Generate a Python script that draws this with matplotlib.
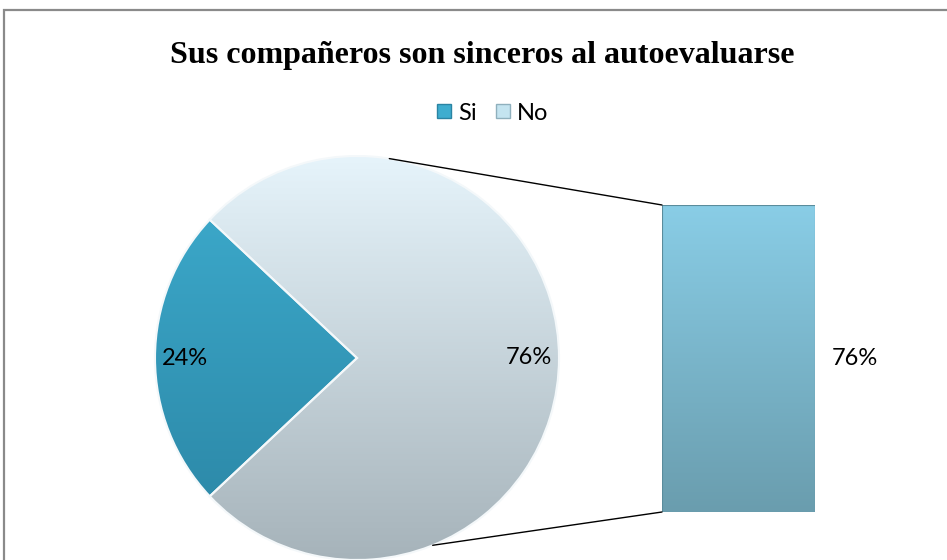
import matplotlib
matplotlib.use("Agg")
import matplotlib.pyplot as plt
import numpy as np
from matplotlib.colors import LinearSegmentedColormap
from matplotlib.patches import Rectangle, ConnectionPatch
from matplotlib.lines import Line2D

title = "Sus compañeros son sinceros al autoevaluarse"
labels = ["Si", "No"]
values = [24, 76]
bar_values = [76]
bar_label = "76%"

# gradient colours (top, bottom)
si_cols = ("#3eadcf", "#2a84a3")
no_cols = ("#e6f4fb", "#a6b3ba")
bar_cols = ("#89cde6", "#6a9dae")

fig = plt.figure(figsize=(9.47, 5.6), dpi=100)
W, H = 947, 560


def grad_fill(ax, patch, cols, extent):
    cmap = LinearSegmentedColormap.from_list("g", [cols[0], cols[1]])
    g = np.linspace(0, 1, 256).reshape(-1, 1)
    im = ax.imshow(g, cmap=cmap, extent=extent, origin="upper",
                   aspect="auto", zorder=patch.get_zorder() - 0.1)
    im.set_clip_path(patch)
    return im


# frame
fig.patches.append(Rectangle((4 / W, -0.02), 1.0, (H - 10) / H + 0.02,
                             transform=fig.transFigure, fill=False,
                             edgecolor="#8a8a8a", lw=1.6))

# pie
r_px = 202
cx, cy = 357, 358
size = 2.2 * r_px
ax = fig.add_axes([(cx - size / 2) / W, (H - cy - size / 2) / H, size / W, size / H])
wedges, texts, autotexts = ax.pie(values, startangle=136.8, counterclock=True,
                                  autopct="%d%%", pctdistance=0.85,
                                  wedgeprops=dict(edgecolor="#f4f8fa", lw=1.5),
                                  textprops=dict(fontsize=17, family="Lato"))
for w, cols in zip(wedges, [si_cols, no_cols]):
    w.set_facecolor("none")
    w.set_zorder(2)
    grad_fill(ax, w, cols, (-1, 1, -1, 1))
for t in autotexts:
    t.set_zorder(5)
ax.set_xlim(-1.1, 1.1)
ax.set_ylim(-1.1, 1.1)
ax.set_aspect("equal")
ax.axis("off")

# bar of the "No" portion
bx0, bx1, by0, by1 = 662, 815, 205, 512
bax = fig.add_axes([bx0 / W, (H - by1) / H, (bx1 - bx0) / W, (by1 - by0) / H])
bars = bax.bar([0], bar_values, width=1.0, color="none",
               edgecolor="#5a8c9c", lw=0.8, zorder=2)
grad_fill(bax, bars[0], bar_cols, (-0.5, 0.5, 0, bar_values[0]))
bax.set_xlim(-0.5, 0.5)
bax.set_ylim(0, bar_values[0])
bax.axis("off")
bax.text(1.26, 0.5, bar_label, transform=bax.transAxes, ha="center",
         va="center", fontsize=17, family="Lato")

# connector lines
a_top, a_bot = np.deg2rad(80.8), np.deg2rad(-68)
for ang, yb in [(a_top, bar_values[0]), (a_bot, 0)]:
    cp = ConnectionPatch(xyA=(np.cos(ang), np.sin(ang)), coordsA=ax.transData,
                         xyB=(-0.5, yb), coordsB=bax.transData,
                         color="black", lw=1.0)
    fig.add_artist(cp)

# title
fig.text(482 / W, 1 - 56 / H, title, ha="center", va="center",
         fontsize=23, fontweight="bold", family="Liberation Serif")

# legend
handles = [Line2D([], [], marker="s", ls="none", markersize=10,
                  markerfacecolor=c[0], markeredgecolor=c[1])
           for c in [si_cols, ("#c4e4f0", "#8fb0bd")]]
fig.legend(handles, labels, loc="center", bbox_to_anchor=(490 / W, 1 - 113 / H),
           ncol=2, frameon=False, prop=dict(family="Lato", size=17),
           handletextpad=0.1, columnspacing=0.6, handlelength=1.0)

fig.savefig("out.png", dpi=100)
